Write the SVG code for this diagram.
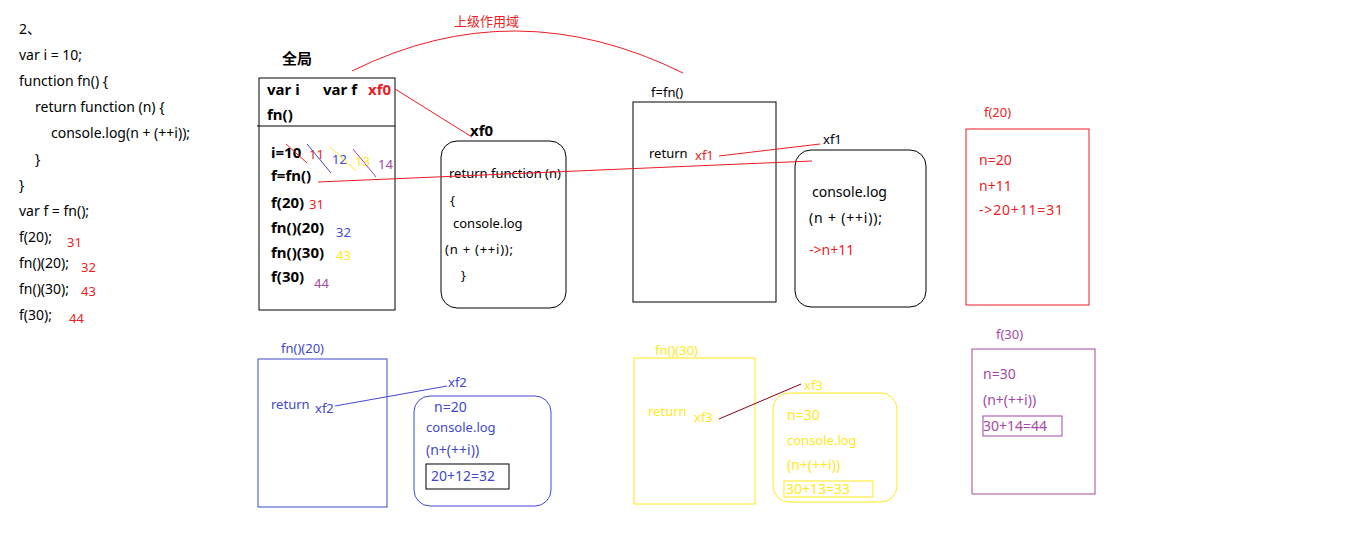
<svg xmlns="http://www.w3.org/2000/svg" width="1360" height="553" viewBox="0 0 1360 553">
<style>
text{font-family:"Noto Sans","Noto Sans CJK SC",sans-serif;font-size:13px;fill:#000}
.c{font-size:14px}
.b{font-weight:bold;font-size:15px}
.s{font-size:12px}
.m{font-size:14px}
.r{fill:#ed1c24}.bl{fill:#3f48cc}.y{fill:#ffe81a}.p{fill:#a349a4}
.box{fill:none;stroke:#000;stroke-width:1}
.ln{fill:none;stroke-width:1}
</style>
<rect width="1360" height="553" fill="#fff"/>
<g id="code">
<text x="19" y="34" class="c">2、</text>
<text x="19" y="60" class="c">var i = 10;</text>
<text x="19" y="86" class="c">function fn() {</text>
<text x="35" y="112" class="c">return function (n) {</text>
<text x="51" y="138" class="c">console.log(n + (++i));</text>
<text x="35" y="164" class="c">}</text>
<text x="19" y="190" class="c">}</text>
<text x="19" y="216" class="c">var f = fn();</text>
<text x="19" y="242" class="c">f(20);</text>
<text x="19" y="268" class="c">fn()(20);</text>
<text x="19" y="294" class="c">fn()(30);</text>
<text x="19" y="320" class="c">f(30);</text>
<text x="67" y="247" class="r">31</text>
<text x="81" y="272" class="r">32</text>
<text x="81" y="296" class="r">43</text>
<text x="69" y="323" class="r">44</text>
</g>
<g id="global">
<text x="282" y="64" class="b">全局</text>
<rect x="259" y="78" width="136" height="232" class="box"/>
<line x1="257" y1="126" x2="395" y2="126" stroke="#000"/>
<text x="267" y="95" class="b">var i</text>
<text x="323" y="95" class="b">var f</text>
<text x="368" y="95" class="b r">xf0</text>
<text x="267" y="120" class="b">fn()</text>
<text x="271" y="158" class="b">i=10</text>
<text x="271" y="181" class="b">f=fn()</text>
<text x="271" y="208" class="b">f(20)</text>
<text x="271" y="233" class="b">fn()(20)</text>
<text x="271" y="258" class="b">fn()(30)</text>
<text x="271" y="282" class="b">f(30)</text>
<text x="309" y="159" class="r">11</text>
<text x="332" y="164" class="bl">12</text>
<text x="355" y="166" class="y">13</text>
<text x="378" y="169" class="p">14</text>
<text x="309" y="209" class="r">31</text>
<text x="336" y="237" class="bl">32</text>
<text x="336" y="260" class="y">43</text>
<text x="314" y="288" class="p">44</text>
<line x1="286" y1="144" x2="307" y2="163" stroke="#ed1c24"/>
<line x1="307" y1="144" x2="331" y2="173" stroke="#3f48cc"/>
<line x1="330" y1="147" x2="356" y2="171" stroke="#ffe81a"/>
<line x1="353" y1="149" x2="376" y2="177" stroke="#a349a4"/>
</g>
<g id="xf0">
<text x="470" y="136" class="b">xf0</text>
<rect x="441" y="141" width="125" height="167" rx="16" class="box"/>
<text x="449" y="178">return function (n)</text>
<text x="450" y="205">{</text>
<text x="453" y="228">console.log</text>
<text x="445" y="254" textLength="68">(n + (++i));</text>
<text x="461" y="280">}</text>
</g>
<g id="ffn">
<text x="651" y="97">f=fn()</text>
<rect x="633" y="102" width="143" height="200" class="box"/>
<text x="649" y="158">return</text>
<text x="695" y="160" class="r">xf1</text>
</g>
<g id="xf1">
<text x="823" y="144">xf1</text>
<rect x="795" y="150" width="131" height="157" rx="16" class="box"/>
<text x="812" y="197" class="m">console.log</text>
<text x="809" y="223" class="m" textLength="73">(n + (++i));</text>
<text x="809" y="255" class="m r">-&gt;n+11</text>
</g>
<g id="f20">
<text x="984" y="117" class="r">f(20)</text>
<rect x="966" y="129" width="123" height="176" fill="none" stroke="#ed1c24"/>
<text x="979" y="165" class="m r">n=20</text>
<text x="979" y="191" class="m r">n+11</text>
<text x="979" y="215" class="m r" textLength="84">-&gt;20+11=31</text>
</g>
<g id="fn20">
<text x="281" y="353" class="bl">fn()(20)</text>
<rect x="258" y="359" width="129" height="148" fill="none" stroke="#3f48cc"/>
<text x="271" y="409" class="bl">return</text>
<text x="315" y="413" class="bl">xf2</text>
</g>
<g id="xf2">
<text x="448" y="387" class="bl">xf2</text>
<rect x="414" y="396" width="137" height="110" rx="16" fill="none" stroke="#3f48cc"/>
<text x="434" y="412" class="m bl">n=20</text>
<text x="426" y="432" class="bl">console.log</text>
<text x="426" y="455" class="m bl">(n+(++i))</text>
<rect x="426" y="464" width="83" height="25" class="box"/>
<text x="431" y="481" class="m bl">20+12=32</text>
</g>
<g id="fn30">
<text x="655" y="355" class="y">fn()(30)</text>
<rect x="634" y="358" width="121" height="146" fill="none" stroke="#ffe81a"/>
<text x="648" y="416" class="y">return</text>
<text x="694" y="422" class="y">xf3</text>
</g>
<g id="xf3">
<text x="804" y="390" class="y">xf3</text>
<rect x="773" y="393" width="124" height="109" rx="16" fill="none" stroke="#ffe81a"/>
<text x="787" y="420" class="m y">n=30</text>
<text x="787" y="445" class="y">console.log</text>
<text x="787" y="470" class="m y">(n+(++i))</text>
<rect x="784" y="481" width="89" height="16" fill="none" stroke="#ffe81a"/>
<text x="786" y="494" class="m y">30+13=33</text>
</g>
<g id="f30">
<text x="996" y="339" class="p">f(30)</text>
<rect x="972" y="349" width="123" height="145" fill="none" stroke="#a349a4"/>
<text x="983" y="379" class="m p">n=30</text>
<text x="983" y="405" class="m p">(n+(++i))</text>
<rect x="983" y="416" width="79" height="20" fill="none" stroke="#a349a4"/>
<text x="983" y="431" class="m p">30+14=44</text>
</g>
<g id="connectors">
<path d="M352,71 Q515,-10 683,73" class="ln" stroke="#ed1c24"/>
<text x="454" y="26" class="r">上级作用域</text>
<line x1="395" y1="89" x2="472" y2="137" class="ln" stroke="#ed1c24"/>
<line x1="318" y1="182" x2="812" y2="161" class="ln" stroke="#ed1c24"/>
<line x1="719" y1="156" x2="820" y2="144" class="ln" stroke="#ed1c24"/>
<line x1="335" y1="406" x2="447" y2="386" class="ln" stroke="#3f48cc"/>
<line x1="719" y1="419" x2="801" y2="384" class="ln" stroke="#880015"/>
</g>
</svg>
